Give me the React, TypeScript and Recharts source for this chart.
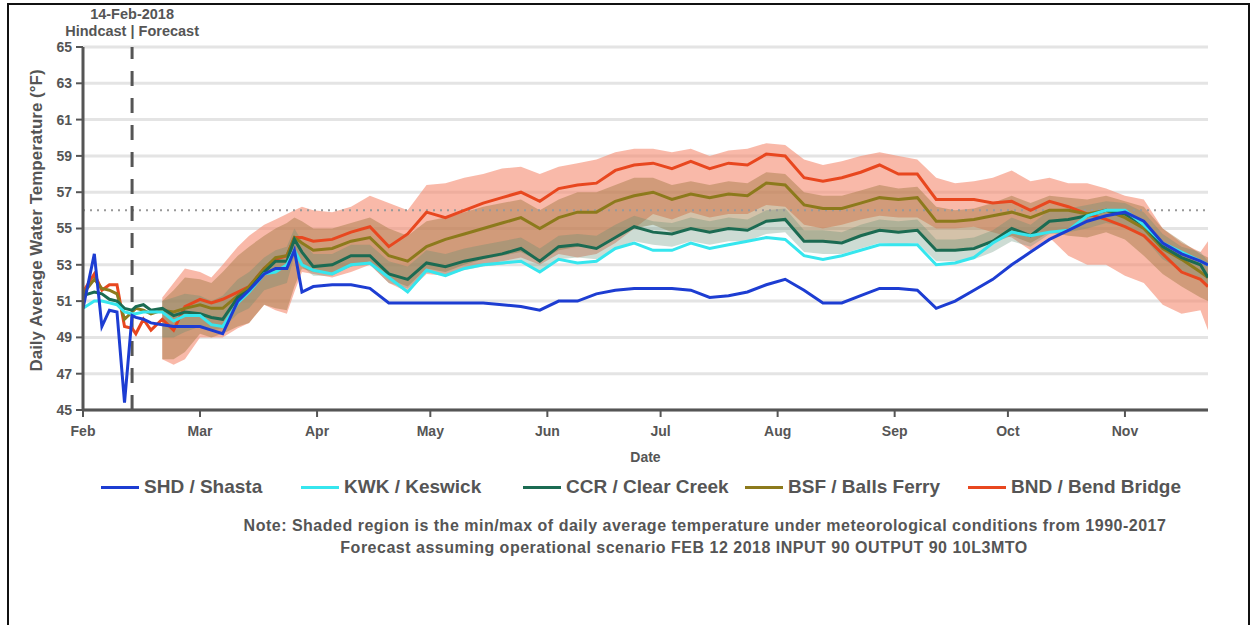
import React from 'react';
import { ComposedChart, Line, Area, XAxis, YAxis, CartesianGrid, ReferenceLine } from 'recharts';

const FONT = '"Liberation Sans", Arial, Helvetica, sans-serif';
const GRAY = '#555555';

// day of year (Jan 1 = 0)
const days = [28, 31, 33, 35, 37, 39, 41, 42, 44, 46, 49, 52, 55, 59, 62, 65, 69, 72, 76, 79, 82, 84, 86, 89, 94, 99, 104, 109, 114, 119, 124, 129, 134, 139, 144, 149, 154, 159, 164, 169, 174, 179, 184, 189, 194, 199, 204, 209, 214, 219, 224, 229, 234, 239, 244, 249, 254, 259, 264, 269, 274, 279, 284, 289, 294, 299, 304, 309, 314, 319, 324, 326];

const monthTicks = [28, 59, 90, 120, 151, 181, 212, 243, 273, 304];
const monthLabels = ['Feb', 'Mar', 'Apr', 'May', 'Jun', 'Jul', 'Aug', 'Sep', 'Oct', 'Nov'];
const yTicks = [45, 47, 49, 51, 53, 55, 57, 59, 61, 63, 65];
const hindcastDay = 41;
const thresholdTemp = 56;

const shd = [50.6, 53.6, 49.6, 50.5, 50.4, 45.4, 50.2, 50.1, 50.0, 49.8,
  49.7, 49.6, 49.6, 49.6, 49.4, 49.2, 51.0, 51.6, 52.5, 52.8,
  52.8, 53.8, 51.5, 51.8, 51.9, 51.9, 51.7, 50.9, 50.9, 50.9,
  50.9, 50.9, 50.9, 50.8, 50.7, 50.5, 51.0, 51.0, 51.4, 51.6,
  51.7, 51.7, 51.7, 51.6, 51.2, 51.3, 51.5, 51.9, 52.2, 51.6,
  50.9, 50.9, 51.3, 51.7, 51.7, 51.6, 50.6, 51.0, 51.6, 52.2,
  53.0, 53.7, 54.4, 54.9, 55.4, 55.7, 55.9, 55.4, 54.2, 53.6,
  53.2, 53.0];

const kwk = [50.6, 51.0, 51.0, 50.9, 50.8, 50.4, 50.3, 50.3, 50.4, 50.4,
  50.4, 49.9, 50.2, 50.2, 49.7, 49.6, 50.9, 51.5, 52.5, 52.6,
  53.0, 53.8, 53.0, 52.7, 52.5, 53.0, 53.1, 52.3, 51.5, 52.7,
  52.4, 52.8, 53.0, 53.1, 53.2, 52.6, 53.3, 53.1, 53.2, 53.9,
  54.2, 53.8, 53.8, 54.2, 53.9, 54.1, 54.3, 54.5, 54.4, 53.5,
  53.3, 53.5, 53.8, 54.1, 54.1, 54.1, 53.0, 53.1, 53.4, 54.2,
  54.8, 54.6, 54.8, 54.9, 55.7, 56.0, 56.0, 55.2, 54.2, 53.7,
  53.2, 53.0];

const ccr = [51.3, 51.5, 51.4, 51.1, 51.0, 50.6, 50.5, 50.7, 50.8, 50.5,
  50.6, 50.2, 50.4, 50.3, 50.1, 50.0, 51.2, 51.6, 52.6, 53.2,
  53.2, 54.4, 53.7, 52.9, 53.0, 53.5, 53.5, 52.5, 52.2, 53.1,
  52.9, 53.2, 53.4, 53.6, 53.9, 53.2, 54.0, 54.1, 53.9, 54.5,
  55.1, 54.8, 54.7, 55.0, 54.8, 55.0, 54.9, 55.4, 55.5, 54.3,
  54.3, 54.2, 54.6, 54.9, 54.8, 54.9, 53.8, 53.8, 53.9, 54.3,
  55.0, 54.6, 55.4, 55.5, 55.7, 56.0, 55.8, 55.2, 54.0, 53.4,
  53.0, 52.3];

const bsf = [51.4, 52.2, 51.7, 51.6, 51.4, 50.0, 50.4, 50.6, 50.5, 50.3,
  50.5, 50.4, 50.6, 50.8, 50.6, 50.6, 51.3, 51.8, 52.8, 53.4,
  53.5, 54.5, 54.2, 53.8, 53.9, 54.3, 54.5, 53.5, 53.2, 54.0,
  54.4, 54.7, 55.0, 55.3, 55.6, 55.0, 55.6, 55.9, 55.9, 56.5,
  56.8, 57.0, 56.6, 56.9, 56.7, 56.9, 56.8, 57.5, 57.4, 56.3,
  56.1, 56.1, 56.4, 56.7, 56.6, 56.7, 55.4, 55.4, 55.5, 55.7,
  55.9, 55.6, 56.0, 56.0, 55.8, 56.0, 55.6, 55.0, 53.9, 53.3,
  52.6, 52.3];

const bnd = [51.5, 52.5, 51.6, 51.9, 51.9, 49.6, 49.5, 49.2, 50.0, 49.4,
  50.0, 49.4, 50.7, 51.1, 50.9, 51.1, 51.5, 51.8, 52.8, 53.3,
  53.5, 54.5, 54.5, 54.3, 54.4, 54.8, 55.1, 54.0, 54.7, 55.9,
  55.6, 56.0, 56.4, 56.7, 57.0, 56.5, 57.2, 57.4, 57.5, 58.2,
  58.5, 58.6, 58.3, 58.7, 58.3, 58.6, 58.5, 59.1, 59.0, 57.8,
  57.6, 57.8, 58.1, 58.5, 58.0, 58.0, 56.6, 56.6, 56.6, 56.4,
  56.5, 56.0, 56.5, 56.2, 55.8, 55.5, 55.1, 54.6, 53.6, 52.6,
  52.2, 51.8];

// shaded min/max (forecast period only)
const bndLo = [null, null, null, null, null, null, null, null, null, null,
  47.8, 47.5, 47.8, 49.0, 49.0, 49.0, 49.5, 49.8, 50.8, 50.5,
  50.3, 51.5, 52.6, 52.5, 52.3, 52.6, 53.0, 52.0, 51.5, 52.5,
  52.4, 52.8, 53.0, 53.2, 53.4, 53.0, 53.6, 53.4, 53.6, 54.2,
  55.0, 55.8, 55.5, 55.9, 55.6, 55.8, 55.8, 56.3, 56.2, 55.2,
  55.0, 55.2, 55.5, 55.7, 55.6, 55.6, 55.0, 55.0, 55.1, 54.8,
  54.5, 53.8, 54.5, 53.5, 53.0, 53.0, 52.4, 52.0, 50.8, 50.3,
  50.5, 49.4];
const bndHi = [null, null, null, null, null, null, null, null, null, null,
  51.2, 52.0, 52.8, 52.6, 52.3, 53.0, 54.0, 54.6, 55.2, 55.5,
  55.8, 56.0, 56.2, 56.0, 55.9, 56.2, 56.8, 56.4, 56.0, 57.4,
  57.5, 57.8, 58.0, 58.3, 58.4, 58.0, 58.4, 58.6, 58.8, 59.2,
  59.4, 59.4, 59.2, 59.4, 59.0, 59.3, 59.4, 59.7, 59.6, 58.8,
  58.5, 58.7, 59.0, 59.2, 59.0, 58.8, 57.8, 57.5, 57.6, 57.8,
  58.2, 57.6, 57.8, 57.5, 57.5, 57.2, 56.8, 56.6, 55.0, 54.2,
  53.7, 54.3];
const bsfLo = [null, null, null, null, null, null, null, null, null, null,
  47.8, 47.8, 48.2, 49.2, 49.0, 49.2, 49.6, 49.8, 50.8, 50.6,
  50.5, 51.8, 52.8, 52.6, 52.5, 52.9, 53.2, 52.2, 51.8, 52.8,
  52.6, 53.0, 53.3, 53.5, 53.7, 53.2, 53.8, 54.0, 54.0, 54.6,
  55.0, 55.2, 54.8, 55.0, 54.8, 55.0, 55.0, 55.4, 55.4, 54.4,
  54.3, 54.3, 54.6, 54.9, 54.8, 54.9, 53.9, 53.8, 54.0, 54.2,
  54.6, 54.2, 54.8, 54.6, 54.5, 54.8, 54.4, 53.5, 52.5, 51.8,
  51.2, 51.0];
const bsfHi = [null, null, null, null, null, null, null, null, null, null,
  51.0, 51.6, 52.3, 52.2, 52.0, 52.6, 53.5, 54.0, 54.6, 55.0,
  55.3, 55.6, 55.4, 55.0, 55.0, 55.3, 55.6, 55.0, 54.6, 55.4,
  55.6, 55.9, 56.2, 56.4, 56.6, 56.0, 56.6, 57.0, 57.0, 57.4,
  57.8, 57.8, 57.4, 57.6, 57.4, 57.6, 57.5, 58.1, 58.0, 57.0,
  56.8, 56.8, 57.1, 57.4, 57.2, 57.3, 56.2, 56.0, 56.1, 56.4,
  56.8, 56.4, 56.8, 56.7, 56.6, 56.8, 56.5, 56.2, 55.0, 54.3,
  53.6, 53.4];
const ccrLo = [null, null, null, null, null, null, null, null, null, null,
  49.0, 49.0, 49.3, 49.6, 49.4, 49.5, 50.3, 50.6, 51.6, 51.8,
  52.0, 53.5, 52.9, 52.4, 52.4, 52.9, 53.0, 52.0, 51.7, 52.6,
  52.4, 52.7, 52.9, 53.0, 53.2, 52.6, 53.3, 53.4, 53.3, 53.9,
  54.3, 54.1, 54.0, 54.3, 54.1, 54.3, 54.3, 54.7, 54.8, 53.7,
  53.6, 53.6, 53.9, 54.2, 54.1, 54.2, 53.2, 53.2, 53.3, 53.7,
  54.3, 54.0, 54.7, 54.8, 55.0, 55.3, 55.1, 54.5, 53.3, 52.7,
  52.2, 51.9];
const ccrHi = [null, null, null, null, null, null, null, null, null, null,
  51.0, 51.2, 51.4, 51.3, 51.0, 51.3, 52.2, 52.6, 53.4, 53.8,
  54.0, 55.0, 54.3, 53.6, 53.6, 54.1, 54.1, 53.2, 52.9, 53.8,
  53.6, 53.9, 54.1, 54.3, 54.5, 53.9, 54.6, 54.7, 54.6, 55.2,
  55.7, 55.4, 55.3, 55.6, 55.4, 55.6, 55.5, 56.0, 56.1, 54.9,
  54.9, 54.8, 55.2, 55.5, 55.4, 55.5, 54.4, 54.4, 54.5, 54.9,
  55.6, 55.2, 56.0, 56.1, 56.3, 56.5, 56.4, 55.9, 54.7, 54.0,
  53.7, 53.2];

const series = [
  { key: 'shd', name: 'SHD / Shasta', color: '#1d3dd2' },
  { key: 'kwk', name: 'KWK / Keswick', color: '#36e6ee' },
  { key: 'ccr', name: 'CCR / Clear Creek', color: '#1b6b52' },
  { key: 'bsf', name: 'BSF / Balls Ferry', color: '#8c7a1c' },
  { key: 'bnd', name: 'BND / Bend Bridge', color: '#e8471f' },
];
const legendTextX = [144, 344, 566, 788, 1011];

const noteLines = [
  'Note: Shaded region is the min/max of daily average temperature under meteorological conditions from 1990-2017',
  'Forecast assuming operational scenario FEB 12 2018 INPUT 90 OUTPUT 90 10L3MTO',
];
const noteCenters = [705, 684];

const rng = (lo: (number | null)[], hi: (number | null)[], i: number) =>
  lo[i] == null || hi[i] == null ? null : [lo[i], hi[i]];

export default function App() {
  const data = days.map((d, i) => ({
    d,
    shd: shd[i],
    kwk: kwk[i],
    ccr: ccr[i],
    bsf: bsf[i],
    bnd: bnd[i],
    bndRange: rng(bndLo, bndHi, i),
    bsfRange: rng(bsfLo, bsfHi, i),
    ccrRange: rng(ccrLo, ccrHi, i),
  }));

  const tickStyle = { fill: GRAY, fontSize: 14, fontWeight: 700, fontFamily: FONT };

  return (
    <div style={{ position: 'absolute', left: 0, top: 0, width: 1254, height: 625, overflow: 'hidden', background: '#fff', fontFamily: FONT }}>
      <div style={{ position: 'absolute', left: 7, top: 3, width: 1243, height: 700, border: '2px solid #111', boxSizing: 'border-box' }} />
      <div style={{ position: 'absolute', left: 0, top: 0 }}>
        <ComposedChart width={1254} height={625} data={data} margin={{ top: 47, right: 46, bottom: 160, left: 23 }}>
          <CartesianGrid vertical={false} stroke="#e4e4e4" strokeWidth={3} />
          <XAxis
            type="number"
            dataKey="d"
            domain={[28, 326]}
            allowDataOverflow
            ticks={monthTicks}
            tickFormatter={(v: number) => monthLabels[monthTicks.indexOf(v)] ?? ''}
            height={55}
            tickSize={7}
            tickMargin={9}
            axisLine={{ stroke: GRAY, strokeWidth: 3 }}
            tickLine={{ stroke: GRAY, strokeWidth: 2 }}
            tick={tickStyle}
            label={{
              content: (p: any) => {
                const vb = p.viewBox;
                return (
                  <text x={vb.x + vb.width / 2} y={462} textAnchor="middle" fill={GRAY} fontSize={14} fontWeight={700} fontFamily={FONT}>Date</text>
                );
              },
            }}
          />
          <YAxis
            type="number"
            domain={[45, 65]}
            ticks={yTicks}
            interval={0}
            width={60}
            tickSize={7}
            tickMargin={4}
            axisLine={{ stroke: GRAY, strokeWidth: 3 }}
            tickLine={{ stroke: GRAY, strokeWidth: 2 }}
            tick={tickStyle}
            label={{
              content: (p: any) => {
                const vb = p.viewBox;
                const cx = 36;
                const cy = vb.y + vb.height / 2 - 8;
                return (
                  <text x={cx} y={cy} transform={`rotate(-90 ${cx} ${cy})`} textAnchor="middle" dominantBaseline="central" fill={GRAY} fontSize={17} fontWeight={700} fontFamily={FONT}>
                    Daily Average Water Temperature (°F)
                  </text>
                );
              },
            }}
          />
          <Area dataKey="bndRange" stroke="none" fill="#f4866a" fillOpacity={0.58} isAnimationActive={false} connectNulls={false} />
          <Area dataKey="bsfRange" stroke="none" fill="#a07840" fillOpacity={0.45} isAnimationActive={false} connectNulls={false} />
          <Area dataKey="ccrRange" stroke="none" fill="#5a8a70" fillOpacity={0.3} isAnimationActive={false} connectNulls={false} />
          <ReferenceLine y={thresholdTemp} stroke="#999" strokeWidth={2} strokeDasharray="2 5" />
          <ReferenceLine
            x={hindcastDay}
            stroke={GRAY}
            strokeWidth={3}
            strokeDasharray="15 12"
            label={{
              content: (p: any) => {
                const vb = p.viewBox;
                return (
                  <g>
                    <text x={vb.x} y={19} textAnchor="middle" fill={GRAY} fontSize={14.5} fontWeight={700} fontFamily={FONT}>14-Feb-2018</text>
                    <text x={vb.x} y={36} textAnchor="middle" fill={GRAY} fontSize={14.5} fontWeight={700} fontFamily={FONT}>Hindcast | Forecast</text>
                  </g>
                );
              },
            }}
          />
          <Line dataKey="bnd" stroke="#e8471f" strokeWidth={3} dot={false} type="linear" isAnimationActive={false} />
          <Line dataKey="bsf" stroke="#8c7a1c" strokeWidth={3} dot={false} type="linear" isAnimationActive={false} />
          <Line dataKey="ccr" stroke="#1b6b52" strokeWidth={3} dot={false} type="linear" isAnimationActive={false} />
          <Line dataKey="kwk" stroke="#36e6ee" strokeWidth={3} dot={false} type="linear" isAnimationActive={false} />
          <Line dataKey="shd" stroke="#1d3dd2" strokeWidth={3} dot={false} type="linear" isAnimationActive={false} />
        </ComposedChart>
      </div>
      {series.map((s, i) => (
        <div key={s.key} style={{ position: 'absolute', left: legendTextX[i] - 43, top: 476, height: 22, display: 'flex', alignItems: 'center', whiteSpace: 'nowrap' }}>
          <div style={{ width: 38, height: 3, background: s.color, marginRight: 5 }} />
          <span style={{ fontSize: 19, fontWeight: 700, color: GRAY, fontFamily: FONT }}>{s.name}</span>
        </div>
      ))}
      {noteLines.map((t, i) => (
        <div key={i} style={{ position: 'absolute', left: noteCenters[i] - 600, width: 1200, top: 515 + i * 22, textAlign: 'center', fontSize: 16, letterSpacing: 0.5, fontWeight: 700, color: GRAY, lineHeight: '22px', whiteSpace: 'nowrap' }}>
          {t}
        </div>
      ))}
    </div>
  );
}
